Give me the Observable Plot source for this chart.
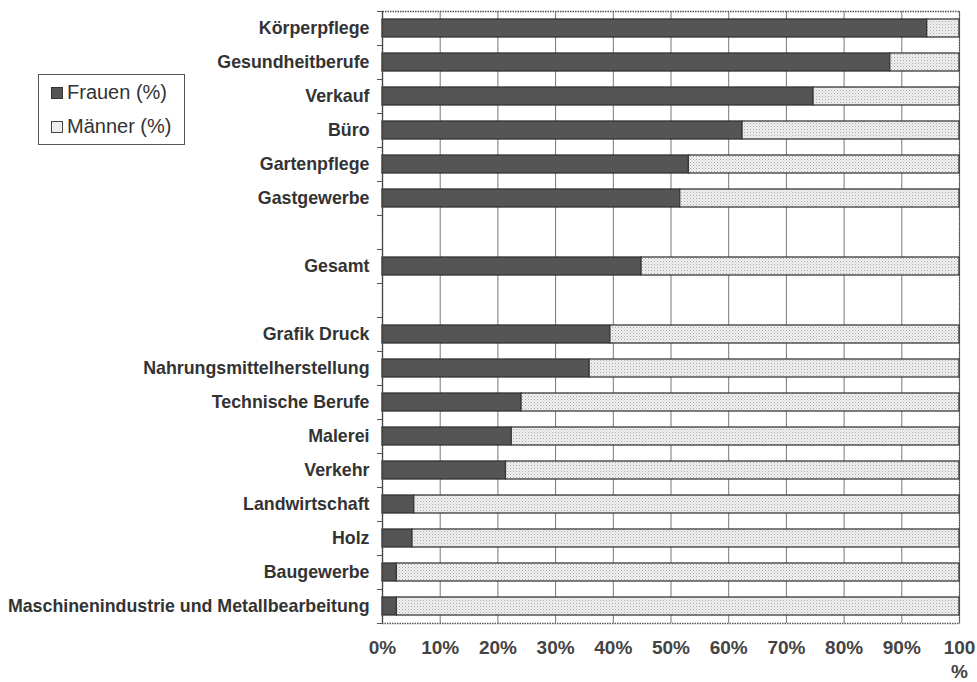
<!DOCTYPE html>
<html><head><meta charset="utf-8">
<script src="https://cdn.jsdelivr.net/npm/d3@7"></script>
<script src="https://cdn.jsdelivr.net/npm/@observablehq/plot@0.6"></script>
<style>
body{margin:0;background:#fff;font-family:"Liberation Sans",Arial,sans-serif;}
#wrap{position:relative;width:977px;height:682px;overflow:hidden;}
#legend{position:absolute;left:38px;top:74px;width:147px;height:71px;border:1px solid #555;box-sizing:border-box;background:#fff;color:#333;font-size:20px;}
.item{position:absolute;left:12px;display:flex;align-items:center;white-space:nowrap;}
.sw{width:12px;height:12px;box-sizing:border-box;border:1.5px solid #333;margin-right:4px;}
</style></head><body>
<div id="wrap">
<div id="legend">
  <div class="item" style="top:6px"><span class="sw" style="background:#555"></span>Frauen (%)</div>
  <div class="item" style="top:40px"><span class="sw" style="background:#eee;border-color:#444"></span>Männer (%)</div>
</div>
</div>
<script>
const categories = ["Körperpflege","Gesundheitberufe","Verkauf","Büro","Gartenpflege","Gastgewerbe"," ","Gesamt","  ","Grafik Druck","Nahrungsmittelherstellung","Technische Berufe","Malerei","Verkehr","Landwirtschaft","Holz","Baugewerbe","Maschinenindustrie und Metallbearbeitung"];
const frauen = [94.4,88.0,74.7,62.4,53.1,51.6,null,44.9,null,39.5,35.9,24.1,22.4,21.4,5.5,5.2,2.5,2.5];
const maenner = [5.6,12.0,25.3,37.6,46.9,48.4,null,55.1,null,60.5,64.1,75.9,77.6,78.6,94.5,94.8,97.5,97.5];
const xTicks = [0,10,20,30,40,50,60,70,80,90,100];

const rowsF = [], rowsM = [];
categories.forEach((c,i)=>{
  if (frauen[i] == null) return;
  rowsF.push({cat:c, a:0, b:frauen[i]});
  rowsM.push({cat:c, a:frauen[i], b:frauen[i]+maenner[i]});
});

const chart = Plot.plot({
  width:977, height:682,
  marginLeft:382, marginRight:18, marginTop:11, marginBottom:59,
  style:{fontFamily:"'Liberation Sans', Arial, sans-serif", color:"#333", background:"transparent", overflow:"visible"},
  x:{domain:[0,100]},
  y:{domain:categories, paddingInner:0.485, paddingOuter:0.2425},
  marks:[
    Plot.gridX(xTicks,{stroke:"#777", strokeOpacity:1, strokeWidth:1}),
    Plot.frame({stroke:"#555", strokeDasharray:"1.5,1", strokeWidth:1.3}),
    Plot.barX(rowsF,{x1:"a", x2:"b", y:"cat", fill:"#555", stroke:"#333", strokeWidth:1.3}),
    Plot.barX(rowsM,{x1:"a", x2:"b", y:"cat", fill:"url(#dots)", stroke:"#3a3a3a", strokeWidth:1.3}),
    Plot.ruleX([0],{stroke:"#444", strokeWidth:1.2}),
    Plot.axisY({label:null, tickSize:0, tickPadding:13, fontSize:17.8, fontWeight:"bold", fill:"#333"}),
    Plot.axisY({label:null, tickSize:5, tickFormat:()=>"", dy:-17, stroke:"#555"}),
    Plot.axisY([categories[categories.length-1]],{label:null, tickSize:5, tickFormat:()=>"", dy:17, stroke:"#555"}),
    Plot.axisX(xTicks,{label:null, tickSize:0, tickPadding:14, fontSize:19, fontWeight:"bold", fill:"#444", lineHeight:1.25,
      tickFormat:d => d===100 ? "100\n%" : d+"%"})
  ]
});

const ns = "http://www.w3.org/2000/svg";
const defs = document.createElementNS(ns,"defs");
defs.innerHTML = '<pattern id="dots" patternUnits="userSpaceOnUse" width="3" height="3">' +
  '<rect width="3" height="3" fill="#f1f1f1"/>' +
  '<rect x="0" y="0" width="1" height="1" fill="#a8a8a8"/>' +
  '<rect x="1.5" y="1.5" width="1" height="1" fill="#c4c4c4"/></pattern>';
chart.insertBefore(defs, chart.firstChild);
chart.style.position = "absolute";
chart.style.left = "0";
chart.style.top = "0";
const wrap = document.getElementById("wrap");
wrap.insertBefore(chart, wrap.firstChild);
</script>
</body></html>
